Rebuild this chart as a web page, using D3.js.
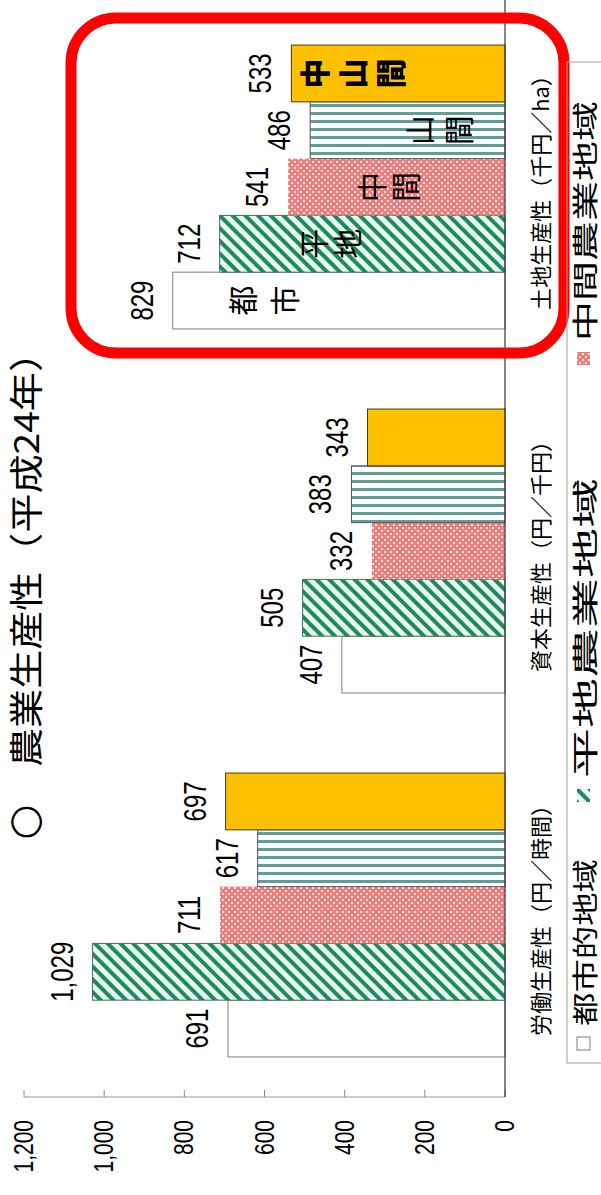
<!DOCTYPE html>
<html><head><meta charset="utf-8">
<script src="https://cdn.jsdelivr.net/npm/d3@7"></script>
<style>html,body{margin:0;padding:0;background:#fff;overflow:hidden}</style>
</head><body><svg id="c" width="601" height="1195"></svg>
<script>
// ---- data ----
const categories = ["労働生産性（円／時間）", "資本生産性（円／千円）", "土地生産性（千円／ha）"];
const seriesNames = ["都市的地域", "平地農業地域", "中間農業地域", "山間農業地域", "中山間地域"];
const toshi = [691, 407, 829];
const heichi = [1029, 505, 712];
const chukan = [711, 332, 541];
const sankan = [617, 383, 486];
const chusankan = [697, 343, 533];
const tickValues = [0, 200, 400, 600, 800, 1000, 1200];
const barTags = ["都市", "平地", "中間", "山間", "中山間"];
const titleText = "農業生産性（平成24年）";

const seriesValues = [toshi, heichi, chukan, sankan, chusankan];

// ---- layout (chart drawn upright, then rotated -90deg) ----
const W = 1195, H = 601;
const svg = d3.select("#c");
const defs = svg.append("defs");

const pHei = defs.append("pattern").attr("id", "pHei").attr("patternUnits", "userSpaceOnUse")
  .attr("width", 9).attr("height", 9).attr("patternTransform", "rotate(45)");
pHei.append("rect").attr("width", 9).attr("height", 9).attr("fill", "#e6faf0");
pHei.append("rect").attr("width", 4).attr("height", 9).attr("fill", "#1f8a5c");

const pChu = defs.append("pattern").attr("id", "pChu").attr("patternUnits", "userSpaceOnUse")
  .attr("width", 6).attr("height", 6);
pChu.append("rect").attr("width", 6).attr("height", 6).attr("fill", "#f07c7c");
pChu.append("rect").attr("x", 0).attr("y", 0).attr("width", 2).attr("height", 2).attr("fill", "#fde8e8");
pChu.append("rect").attr("x", 3).attr("y", 3).attr("width", 2).attr("height", 2).attr("fill", "#fde8e8");

const pSan = defs.append("pattern").attr("id", "pSan").attr("patternUnits", "userSpaceOnUse")
  .attr("width", 8).attr("height", 8);
pSan.append("rect").attr("width", 8).attr("height", 8).attr("fill", "#ffffff");
pSan.append("rect").attr("width", 3).attr("height", 8).attr("fill", "#5e9f97");

const fills = ["#ffffff", "url(#pHei)", "url(#pChu)", "url(#pSan)", "#ffc000"];
const strokes = ["#808080", "#4d6b5c", "none", "#555555", "#4a3c10"];

const g = svg.append("g").attr("transform", `translate(0,${W}) rotate(-90)`);

const x = d3.scaleBand().domain(categories).range([98, 1190]).paddingInner(0.22).paddingOuter(0.11);
const xs = d3.scaleBand().domain(seriesNames).range([0, x.bandwidth()]);
const y = d3.scaleLinear().domain([0, 1200]).range([505, 24]);

// title
g.append("text").attr("x", 373).attr("y", 37).attr("text-anchor", "middle")
  .attr("font-family", "DejaVu Sans").attr("font-size", 40).attr("fill", "#000").text("○");
g.append("text").attr("x", 428).attr("y", 39)
  .attr("font-family", "Noto Sans CJK JP").attr("font-size", 34).attr("fill", "#000")
  .attr("textLength", 434).attr("lengthAdjust", "spacingAndGlyphs").text(titleText);

// value axis
g.append("line").attr("x1", 98).attr("x2", 98).attr("y1", y(1200)).attr("y2", y(0))
  .attr("stroke", "#9a9a9a").attr("stroke-width", 1.2);
g.selectAll(".tk").data(tickValues).join("line")
  .attr("x1", 98).attr("x2", 105).attr("y1", d => y(d)).attr("y2", d => y(d))
  .attr("stroke", "#888");
g.selectAll(".tl").data(tickValues).join("text")
  .attr("transform", d => `translate(75,${y(d) + 9}) scale(0.75,1)`)
  .attr("text-anchor", "end").attr("font-family", "Liberation Sans").attr("font-size", 28)
  .attr("fill", "#000").text(d => d3.format(",")(d));

// bars
categories.forEach((c, ci) => {
  seriesNames.forEach((s, si) => {
    const v = seriesValues[si][ci];
    g.append("rect")
      .attr("x", x(c) + xs(s)).attr("width", xs.bandwidth())
      .attr("y", y(v)).attr("height", y(0) - y(v))
      .attr("fill", fills[si]).attr("stroke", strokes[si]).attr("stroke-width", 1);
    g.append("text")
      .attr("transform", `translate(${x(c) + xs(s) + xs.bandwidth() / 2},${y(v) - 20}) scale(0.75,1)`)
      .attr("text-anchor", "middle").attr("font-family", "Liberation Sans").attr("font-size", 32)
      .attr("fill", "#000").text(d3.format(",")(v));
  });
  g.append("text").attr("x", x(c) + x.bandwidth() / 2).attr("y", 549).attr("text-anchor", "middle")
    .attr("font-family", "Noto Sans CJK JP").attr("font-size", 22).attr("fill", "#000").text(c);
});

// baseline (category axis)
g.append("line").attr("x1", 98).attr("x2", W).attr("y1", y(0)).attr("y2", y(0))
  .attr("stroke", "#333").attr("stroke-width", 1.2);

// tags inside land-productivity bars
const tagStart = [70, 94, 84, 110, 24];
const tagStep = [42, 34, 34, 39, 38];
const landCat = categories[2];
barTags.forEach((t, si) => {
  const v = seriesValues[si][2];
  const cx = x(landCat) + xs(seriesNames[si]) + xs.bandwidth() / 2;
  Array.from(t).forEach((ch, k) => {
    g.append("text").attr("x", cx).attr("y", y(v) + tagStart[si] + k * tagStep[si] + 11)
      .attr("text-anchor", "middle").attr("font-family", "Noto Sans CJK JP")
      .attr("font-size", 30).attr("font-weight", si === 4 ? 900 : 400).attr("fill", "#000").text(ch);
  });
});

// red highlight
g.append("rect").attr("x", 842).attr("y", 71).attr("width", 335).attr("height", 493)
  .attr("rx", 45).attr("ry", 45).attr("fill", "none").attr("stroke", "#ff0000").attr("stroke-width", 11);

// legend
g.append("rect").attr("x", 132).attr("y", 567).attr("width", 1001).attr("height", 80)
  .attr("fill", "none").attr("stroke", "#a0a0a0").attr("stroke-width", 1);
const legX = [145, 393, 830];
const legLen = [167, 300, 240];
seriesNames.slice(0, 3).forEach((s, si) => {
  g.append("rect").attr("x", legX[si]).attr("y", 577).attr("width", 13).attr("height", 13)
    .attr("fill", fills[si]).attr("stroke", si === 0 ? "#808080" : "none");
  g.append("text").attr("x", legX[si] + 24).attr("y", 595)
    .attr("font-family", "Noto Sans CJK JP").attr("font-size", 26).attr("fill", "#000")
    .attr("textLength", legLen[si]).attr("lengthAdjust", "spacingAndGlyphs").text(s);
});
</script></body></html>
